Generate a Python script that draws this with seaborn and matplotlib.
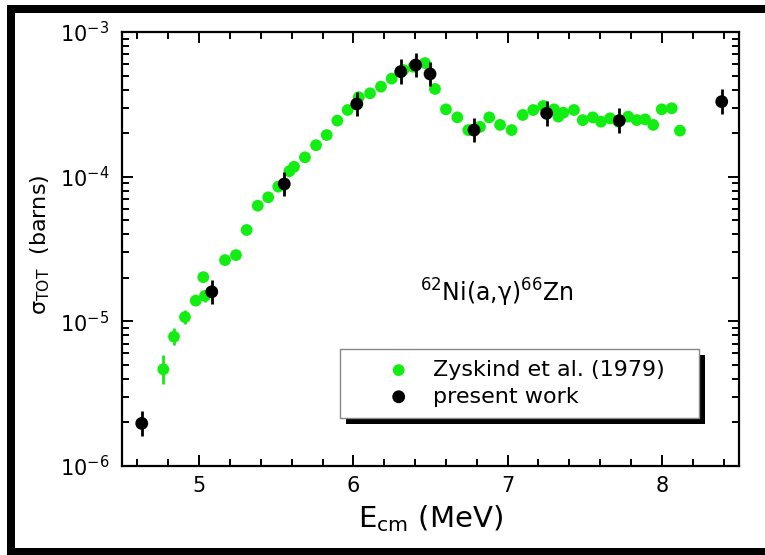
import numpy as np
import pandas as pd
import matplotlib
matplotlib.use("Agg")
import matplotlib.pyplot as plt
import seaborn as sns
from matplotlib.patches import Rectangle
from matplotlib.transforms import IdentityTransform
from matplotlib.ticker import MultipleLocator, LogLocator, NullFormatter

# ---------------- data ----------------
zyskind_E = [4.768, 4.837, 4.908, 4.978, 5.027, 5.038, 5.168, 5.239, 5.308, 5.380,
             5.448, 5.513, 5.585, 5.615, 5.686, 5.758, 5.827, 5.896, 5.963, 6.035,
             6.108, 6.179, 6.248, 6.324, 6.389, 6.464, 6.529, 6.600, 6.674, 6.745,
             6.821, 6.881, 6.951, 7.026, 7.098, 7.166, 7.231, 7.301, 7.329, 7.361,
             7.430, 7.487, 7.552, 7.605, 7.664, 7.718, 7.782, 7.837, 7.891, 7.944,
             7.999, 8.064, 8.117]
zyskind_sigma = [4.66e-6, 7.83e-6, 1.07e-5, 1.39e-5, 2.02e-5, 1.50e-5, 2.65e-5, 2.87e-5, 4.28e-5, 6.30e-5,
                 7.20e-5, 8.53e-5, 1.09e-4, 1.17e-4, 1.36e-4, 1.65e-4, 1.94e-4, 2.44e-4, 2.89e-4, 3.54e-4,
                 3.77e-4, 4.19e-4, 4.76e-4, 5.46e-4, 5.75e-4, 6.10e-4, 4.04e-4, 2.92e-4, 2.57e-4, 2.10e-4,
                 2.21e-4, 2.57e-4, 2.28e-4, 2.10e-4, 2.67e-4, 2.89e-4, 3.08e-4, 2.92e-4, 2.60e-4, 2.77e-4,
                 2.89e-4, 2.46e-4, 2.57e-4, 2.40e-4, 2.53e-4, 2.40e-4, 2.60e-4, 2.46e-4, 2.49e-4, 2.28e-4,
                 2.92e-4, 2.97e-4, 2.08e-4]
# error bars in decades (log10 half-width)
zyskind_err_dex = [0.10, 0.06, 0.05, 0.0, 0.0, 0.04, 0.0, 0.0, 0.0, 0.0,
                   0.0, 0.0, 0.0, 0.0, 0.0, 0.0, 0.0, 0.0, 0.0, 0.0,
                   0.0, 0.0, 0.0, 0.0, 0.0, 0.0, 0.0, 0.0, 0.0, 0.0,
                   0.0, 0.0, 0.0, 0.0, 0.0, 0.0, 0.0, 0.0, 0.0, 0.0,
                   0.0, 0.0, 0.0, 0.0, 0.0, 0.0, 0.0, 0.0, 0.0, 0.0,
                   0.0, 0.0, 0.0]

present_E = [4.628, 5.082, 5.552, 6.022, 6.307, 6.404, 6.497, 6.782, 7.253, 7.724, 8.388]
present_sigma = [1.97e-6, 1.60e-5, 8.90e-5, 3.18e-4, 5.32e-4, 5.91e-4, 5.13e-4, 2.10e-4, 2.74e-4, 2.44e-4, 3.30e-4]
present_err_dex = [0.085, 0.085, 0.085, 0.085, 0.085, 0.085, 0.085, 0.085, 0.085, 0.085, 0.085]

labels = ["Zyskind et al. (1979)", "present work"]
x_ticks = [5, 6, 7, 8]

# ---------------- style ----------------
sns.set_style("ticks")
plt.rcParams["font.family"] = ["DejaVu Sans"]
plt.rcParams["mathtext.fontset"] = "dejavusans"
for k in ["text.color", "axes.labelcolor", "xtick.color", "ytick.color", "axes.edgecolor"]:
    plt.rcParams[k] = "black"

GREEN = "#12ee12"
BLACK = "#000000"

fig = plt.figure(figsize=(7.65, 5.55), dpi=100)
ax = fig.add_axes([122 / 765, 1 - 466 / 555, (739 - 122) / 765, (466 - 32) / 555])

zdf = pd.DataFrame({"E": zyskind_E, "sigma": zyskind_sigma, "err": zyskind_err_dex})
pdf = pd.DataFrame({"E": present_E, "sigma": present_sigma, "err": present_err_dex})

def asym(df):
    lo = df["sigma"] * (1 - 10 ** (-df["err"]))
    hi = df["sigma"] * (10 ** (df["err"]) - 1)
    return [lo.values, hi.values]

ax.set_yscale("log")
ax.errorbar(zdf["E"], zdf["sigma"], yerr=asym(zdf), fmt="none", ecolor=GREEN,
            elinewidth=2, capsize=0, zorder=2)
sns.scatterplot(data=zdf, x="E", y="sigma", ax=ax, color=GREEN, s=72,
                edgecolor="none", label=labels[0], zorder=3)
ax.errorbar(pdf["E"], pdf["sigma"], yerr=asym(pdf), fmt="none", ecolor=BLACK,
            elinewidth=2, capsize=0, zorder=4)
sns.scatterplot(data=pdf, x="E", y="sigma", ax=ax, color=BLACK, s=85,
                edgecolor="none", label=labels[1], zorder=4.5)

ax.set_xlim(4.5, 8.5)
ax.set_ylim(1e-6, 1e-3)
ax.set_xticks(x_ticks)
ax.xaxis.set_minor_locator(MultipleLocator(0.2))
ax.yaxis.set_major_locator(LogLocator(base=10, numticks=10))
ax.yaxis.set_minor_locator(LogLocator(base=10, subs=np.arange(2, 10), numticks=20))
ax.yaxis.set_minor_formatter(NullFormatter())

for sp in ax.spines.values():
    sp.set_visible(True)
    sp.set_linewidth(1.6)
    sp.set_color("black")

ax.tick_params(which="both", direction="in", top=True, right=True, color="black",
               labelcolor="black", width=1.4)
ax.tick_params(which="major", length=8, labelsize=15, pad=7)
ax.tick_params(which="minor", length=5)
ax.tick_params(axis="y", which="major", pad=9)

ax.set_xlabel(r"E$_{\rm cm}$ (MeV)", fontsize=21, color="black")
ax.xaxis.set_label_coords(0.5, -0.085)
ax.set_ylabel(r"σ$_{\rm TOT}$  (barns)", fontsize=16, color="black")
ax.yaxis.set_label_coords(-0.113, 0.51)

ax.text(6.43, 1.36e-5, r"$^{62}$Ni(a,γ)$^{66}$Zn", fontsize=17, ha="left",
        va="baseline", color="black")

leg = ax.legend(loc="upper left", bbox_to_anchor=(0.353, 0.1175, 0.582, 0.1525),
                mode="expand", borderaxespad=0, fontsize=16, frameon=True,
                fancybox=False, framealpha=1, edgecolor="#888888",
                borderpad=0.5, labelspacing=0.3, handlelength=4.3,
                handletextpad=-0.59, scatterpoints=1)
leg.get_frame().set_linewidth(1.0)
leg.set_zorder(10)
for t in leg.get_texts():
    t.set_color("black")

# shadow behind legend
fig.canvas.draw()
bb = leg.get_window_extent()
shadow = Rectangle((bb.x0 + 6, bb.y0 - 6), bb.width, bb.height, transform=IdentityTransform(),
                   facecolor="black", edgecolor="none", zorder=9, clip_on=False)
ax.add_patch(shadow)

# figure border bands (left, top, bottom)
H = 555.0
W = 765.0
for (x0, y0, x1, y1) in [(7, 5, 765, 13), (7, 5, 15, 555), (7, 548, 765, 555)]:
    fig.add_artist(Rectangle((x0 / W, 1 - y1 / H), (x1 - x0) / W, (y1 - y0) / H,
                             transform=fig.transFigure, facecolor="black",
                             edgecolor="none"))

fig.savefig("out.png", dpi=100)
